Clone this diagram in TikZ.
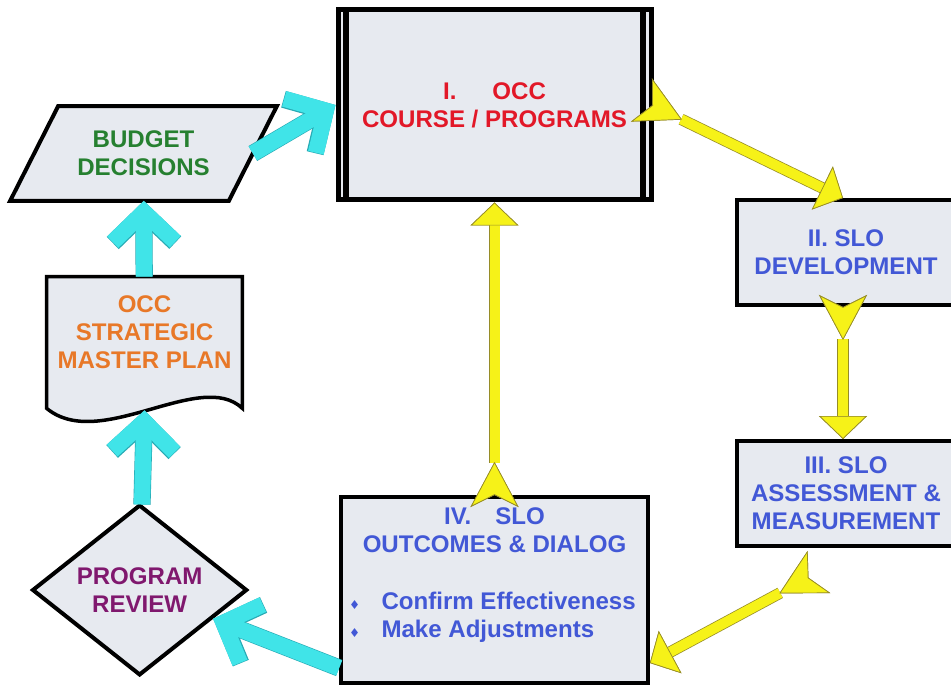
\documentclass[tikz,border=0pt]{standalone}
\usepackage{fontspec}
\setmainfont{Liberation Sans}
\newfontfamily\symfont{DejaVu Sans}
\usetikzlibrary{positioning,arrows.meta,shapes.geometric,backgrounds}

\definecolor{boxfill}{RGB}{231,234,240}
\definecolor{occred}{RGB}{226,24,40}
\definecolor{sloblue}{RGB}{66,88,214}
\definecolor{budgetgreen}{RGB}{38,128,48}
\definecolor{planorange}{RGB}{232,120,40}
\definecolor{reviewpurple}{RGB}{128,24,110}
\definecolor{flowcyan}{RGB}{64,228,232}
\definecolor{cyanedge}{RGB}{40,170,180}
\definecolor{flowyellow}{RGB}{246,242,24}
\definecolor{yellowedge}{RGB}{150,140,40}

\tikzset{
  flowtext/.style={align=center,font=\fontsize{13.7}{16}\selectfont\bfseries},
  box/.style={flowtext,draw,line width=0.8mm,fill=boxfill},
  slobox/.style={box,text=sloblue,minimum width=4.36cm,minimum height=2.1cm},
  cyanflow/.style={draw=flowcyan,line width=3.2mm,-{Straight Barb[length=6mm,width=12.5mm]},
    preaction={draw=cyanedge,line width=3.45mm}},
  yellowflow/.style={draw=flowyellow,line width=2mm,
    {Stealth[reversed,length=9mm,width=9.6mm,inset=2.4mm,line width=0.4pt,color=yellowedge,fill=flowyellow]}-{Triangle[length=4.6mm,width=9.6mm,line width=0.4pt,color=yellowedge,fill=flowyellow]},
    preaction={draw=yellowedge,line width=2.3mm}},
}
\newcommand\bulletitem[1]{\makebox[6.9mm][l]{\hspace{0.4mm}{\symfont\fontsize{7}{8}\selectfont ♦}}#1}

\begin{document}
\begin{tikzpicture}[x=0.2mm,y=-0.2mm]
\useasboundingbox (0,0) rectangle (951,687);

% stage boxes
\node[box,text=occred,line width=1mm,minimum width=6.26cm,minimum height=3.8cm] (course) at (494.5,105) {I.\hspace{7.2mm}OCC\\COURSE / PROGRAMS};
\draw[line width=1.2mm] ([xshift=2.1mm]course.north west) -- ([xshift=2.1mm]course.south west)
  ([xshift=-2.1mm]course.north east) -- ([xshift=-2.1mm]course.south east);
\node[slobox] (dev) at (846,252.5) {II. SLO\\DEVELOPMENT};
\node[slobox,below=26.4mm of dev] (assess) {III. SLO\\ASSESSMENT \&\\MEASUREMENT};
\node[box,text=sloblue,minimum width=6cm,minimum height=3.72cm,below=58.5mm of course] (outcome)
  {\parbox{5.9cm}{\centering IV.\quad SLO\\OUTCOMES \& DIALOG\par\vspace{16pt}
   \raggedright\bulletitem{Confirm Effectiveness}\\\bulletitem{Make Adjustments}\par\vspace{6mm}}};

% planning side
\node[box,diamond,text=reviewpurple,inner sep=0pt,minimum width=4.3cm,minimum height=3.16cm,left=18mm of outcome] (review) {PROGRAM\\REVIEW};
\node[flowtext,text=planorange,minimum width=3.9cm,minimum height=2.2cm] (plan) at (144.5,332) {OCC\\STRATEGIC\\MASTER PLAN};
\node[flowtext,text=budgetgreen,minimum width=4.36cm,minimum height=1.88cm] (budget) at (143.5,153.5) {BUDGET\\DECISIONS};
\begin{scope}[on background layer]
\draw[line width=0.7mm,fill=boxfill] (plan.north west) -- (plan.north east) -- ([yshift=-4.2mm]plan.south east)
  .. controls +(-42,-40) and +(53,44) .. ([yshift=-4.2mm]plan.south west) -- cycle;
\draw[line width=0.8mm,fill=boxfill] ([xshift=4.8mm]budget.north west) -- ([xshift=4.8mm]budget.north east)
  -- ([xshift=-4.8mm]budget.south east) -- ([xshift=-4.8mm]budget.south west) -- cycle;
\end{scope}
\coordinate (planwave) at ([yshift=-4.6mm]plan.south);

% flow arrows
\path
([xshift=-2.4mm,yshift=1mm]course.east) edge[yellowflow] ([xshift=-0.6mm]dev.north)
([xshift=-0.6mm,yshift=2.4mm]dev.south) edge[yellowflow] ([xshift=-0.6mm]assess.north)
([xshift=-5.4mm,yshift=-4.8mm]assess.south) edge[yellowflow] ([yshift=-14.6mm]outcome.east)
([yshift=-2.4mm]outcome.north) edge[yellowflow] (course.south);

\path
([yshift=-15.6mm]outcome.west) edge[cyanflow] (review)
(review) edge[cyanflow] (planwave)
(plan) edge[cyanflow] (budget)
(budget.east) edge[cyanflow] (course.west);

\end{tikzpicture}
\end{document}
